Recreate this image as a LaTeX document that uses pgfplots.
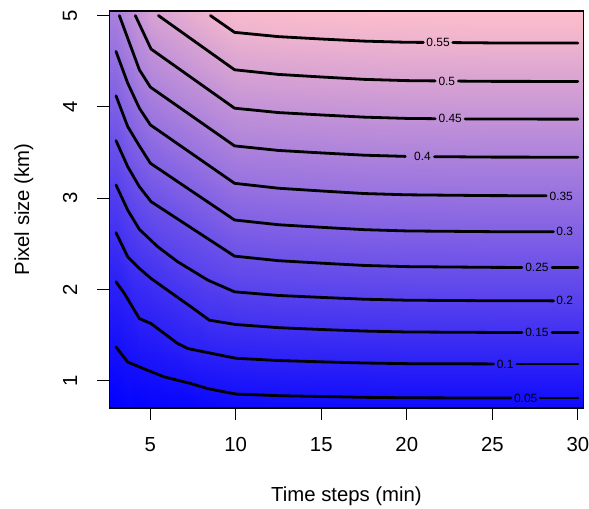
\documentclass[border=0pt]{standalone}
\usepackage{fontspec}
\setmainfont{Liberation Sans}
\usepackage{pgfplots}
\usepackage{pgfplotstable}
\pgfplotsset{compat=1.18}
\pgfplotstableread{
x y z
2.6 0.70 0.003
2.6 1.369 0.05
2.6 2.083 0.10
2.6 2.621 0.15
2.6 3.144 0.20
2.6 3.630 0.25
2.6 4.121 0.30
2.6 4.607 0.35
2.6 5.10 0.40
2.6 5.58 0.45
2.6 6.07 0.50
2.6 6.56 0.55
2.6 7.05 0.60
3 0.70 0.003
3 1.369 0.05
3 2.083 0.10
3 2.621 0.15
3 3.144 0.20
3 3.630 0.25
3 4.121 0.30
3 4.607 0.35
3 5.10 0.40
3 5.58 0.45
3 6.07 0.50
3 6.56 0.55
3 7.05 0.60
3.683 0.70 0.0135
3.683 1.204 0.05
3.683 1.894 0.10
3.683 2.357 0.15
3.683 2.869 0.20
3.683 3.345 0.25
3.683 3.784 0.30
3.683 4.26 0.35
3.683 4.753 0.40
3.683 5.24 0.45
3.683 5.73 0.50
3.683 6.22 0.55
3.683 6.70 0.60
4.366 0.70 0.0074
4.366 1.151 0.05
4.366 1.680 0.10
4.366 2.229 0.15
4.366 2.657 0.20
4.366 3.125 0.25
4.366 3.572 0.30
4.366 3.985 0.35
4.366 4.406 0.40
4.366 4.906 0.45
4.366 5.36 0.50
4.366 5.82 0.55
4.366 6.28 0.60
5.03 0.70 0.012
5.03 1.100 0.05
5.03 1.628 0.10
5.03 2.12 0.15
5.03 2.54 0.20
5.03 2.965 0.25
5.03 3.382 0.30
5.03 3.802 0.35
5.03 4.216 0.40
5.03 4.64 0.45
5.03 5.06 0.50
5.03 5.48 0.55
5.03 5.90 0.60
6 0.70 0.014
6 1.032 0.05
6 1.492 0.10
6 1.992 0.15
6 2.388 0.20
6 2.845 0.25
6 3.257 0.30
6 3.673 0.35
6 4.086 0.40
6 4.507 0.45
6 4.931 0.50
6 5.33 0.55
6 5.75 0.60
7.4 0.70 0.0147
7.4 0.966 0.05
7.4 1.343 0.10
7.4 1.807 0.15
7.4 2.212 0.20
7.4 2.674 0.25
7.4 3.080 0.30
7.4 3.491 0.35
7.4 3.903 0.40
7.4 4.321 0.45
7.4 4.744 0.50
7.4 5.146 0.55
7.4 5.55 0.60
8.4 0.70 0.0232
8.4 0.911 0.05
8.4 1.304 0.10
8.4 1.670 0.15
8.4 2.099 0.20
8.4 2.551 0.25
8.4 2.954 0.30
8.4 3.361 0.35
8.4 3.772 0.40
8.4 4.188 0.45
8.4 4.610 0.50
8.4 5.016 0.55
8.4 5.43 0.60
10 0.70 0.0305
10 0.853 0.05
10 1.245 0.10
10 1.615 0.15
10 1.973 0.20
10 2.364 0.25
10 2.760 0.30
10 3.162 0.35
10 3.572 0.40
10 3.985 0.45
10 4.406 0.50
10 4.816 0.55
10 5.23 0.60
12.5 0.70 0.0325
12.5 0.835 0.05
12.5 1.220 0.10
12.5 1.580 0.15
12.5 1.933 0.20
12.5 2.314 0.25
12.5 2.708 0.30
12.5 3.108 0.35
12.5 3.522 0.40
12.5 3.937 0.45
12.5 4.355 0.50
12.5 4.769 0.55
12.5 5.18 0.60
15 0.70 0.0334
15 0.826 0.05
15 1.206 0.10
15 1.560 0.15
15 1.912 0.20
15 2.287 0.25
15 2.680 0.30
15 3.078 0.35
15 3.495 0.40
15 3.911 0.45
15 4.327 0.50
15 4.743 0.55
15 5.15 0.60
17.5 0.70 0.0344
17.5 0.817 0.05
17.5 1.193 0.10
17.5 1.543 0.15
17.5 1.892 0.20
17.5 2.262 0.25
17.5 2.654 0.30
17.5 3.050 0.35
17.5 3.470 0.40
17.5 3.887 0.45
17.5 4.301 0.50
17.5 4.720 0.55
17.5 5.13 0.60
20 0.70 0.035
20 0.812 0.05
20 1.186 0.10
20 1.533 0.15
20 1.881 0.20
20 2.249 0.25
20 2.640 0.30
20 3.036 0.35
20 3.457 0.40
20 3.873 0.45
20 4.287 0.50
20 4.707 0.55
20 5.12 0.60
25 0.70 0.0354
25 0.809 0.05
25 1.183 0.10
25 1.528 0.15
25 1.875 0.20
25 2.241 0.25
25 2.632 0.30
25 3.027 0.35
25 3.449 0.40
25 3.866 0.45
25 4.279 0.50
25 4.700 0.55
25 5.11 0.60
30 0.70 0.0354
30 0.809 0.05
30 1.182 0.10
30 1.527 0.15
30 1.874 0.20
30 2.240 0.25
30 2.631 0.30
30 3.026 0.35
30 3.448 0.40
30 3.865 0.45
30 4.278 0.50
30 4.699 0.55
30 5.11 0.60
30.4 0.70 0.0354
30.4 0.809 0.05
30.4 1.182 0.10
30.4 1.527 0.15
30.4 1.874 0.20
30.4 2.240 0.25
30.4 2.631 0.30
30.4 3.026 0.35
30.4 3.448 0.40
30.4 3.865 0.45
30.4 4.278 0.50
30.4 4.699 0.55
30.4 5.11 0.60
}\meshdata
\tikzset{lb/.style={font=\fontsize{6}{7}\selectfont, inner sep=0pt, text=black}}
\pgfplotsset{cl/.style={black, line width=1.4bp, line join=round, line cap=round}}
\begin{document}
\begin{tikzpicture}
\begin{axis}[
  scale only axis,
  width=237bp, height=198.5bp,
  xmin=2.62, xmax=30.33, ymin=0.70, ymax=5.05,
  axis on top,
  xtick={5,10,15,20,25,30},
  ytick={1,2,3,4,5},
  tick pos=left,
  tick align=outside,
  major tick length=6.2bp,
  every tick/.style={black, line width=0.5bp},
  axis line style={black, line width=0.6bp},
  /pgf/number format/assume math mode=true,
  tick label style={font=\fontsize{10.2}{12}\selectfont},
  xticklabel style={anchor=center},
  xticklabel shift=12.3bp,
  yticklabel style={rotate=90, anchor=center},
  yticklabel shift=13.5bp,
  label style={font=\fontsize{10.2}{12}\selectfont},
  xlabel={Time steps (min)},
  ylabel={Pixel size (km)},
  xlabel style={at={(axis description cs:0.5,-0.2216)}, anchor=center},
  ylabel style={at={(axis description cs:-0.1804,0.5)}, anchor=center, rotate=0},
  colormap={bluepink}{rgb255=(0,0,255) rgb255=(255,192,203)},
  point meta min=0, point meta max=0.59,
]
\addplot[surf, shader=interp, mesh/ordering=y varies, mesh/rows=13, mesh/cols=16, point meta=explicit]
  table[x=x, y=y, meta=z] {\meshdata};

% 0.55
\addplot[cl] coordinates {(8.52,5.0)(9.93,4.816)(12.5,4.769)(15,4.743)(17.5,4.720)(20,4.707)(20.97,4.706)};
\addplot[cl] coordinates {(22.69,4.704)(25,4.700)(30,4.699)};
% 0.5
\addplot[cl] coordinates {(5.48,5.0)(9.93,4.406)(12.5,4.355)(15,4.327)(17.5,4.301)(20,4.287)(21.66,4.284)};
\addplot[cl] coordinates {(23.02,4.282)(25,4.279)(30,4.278)};
% 0.45
\addplot[cl] coordinates {(4.13,5.0)(5.05,4.633)(9.93,3.985)(12.5,3.937)(15,3.911)(17.5,3.887)(20,3.873)(21.66,3.870)};
\addplot[cl] coordinates {(23.41,3.867)(25,3.866)(30,3.865)};
% 0.4
\addplot[cl] coordinates {(3.195,5.0)(4.366,4.406)(5.01,4.216)(9.93,3.572)(12.5,3.522)(15,3.495)(17.5,3.470)(19.91,3.457)};
\addplot[cl] coordinates {(21.62,3.454)(25,3.449)(30,3.448)};
% 0.35
\addplot[cl] coordinates {(3.0,4.607)(3.683,4.26)(4.366,3.985)(5.01,3.802)(9.93,3.162)(12.5,3.108)(15,3.078)(17.5,3.050)(20,3.036)(25,3.027)(28.15,3.026)};
% 0.3
\addplot[cl] coordinates {(3.0,4.121)(3.683,3.784)(4.366,3.572)(5.01,3.382)(9.93,2.760)(12.5,2.708)(15,2.680)(17.5,2.654)(20,2.640)(25,2.632)(28.58,2.631)};
% 0.25
\addplot[cl] coordinates {(3.0,3.630)(3.683,3.345)(4.366,3.125)(5.05,2.961)(9.93,2.364)(12.5,2.314)(15,2.287)(17.5,2.262)(20,2.249)(25,2.241)(26.73,2.240)};
\addplot[cl] coordinates {(28.49,2.240)(30,2.240)};
% 0.2
\addplot[cl] coordinates {(3.0,3.144)(3.683,2.869)(4.366,2.657)(5.44,2.467)(6.61,2.302)(8.37,2.101)(9.93,1.973)(12.5,1.933)(15,1.912)(17.5,1.892)(20,1.881)(25,1.875)(28.58,1.874)};
% 0.15
\addplot[cl] coordinates {(3.0,2.621)(3.683,2.357)(4.366,2.229)(5.05,2.119)(6.42,1.936)(7.39,1.808)(8.46,1.662)(10,1.615)(12.5,1.580)(15,1.560)(17.5,1.543)(20,1.533)(25,1.528)(26.73,1.527)};
\addplot[cl] coordinates {(28.49,1.527)(30,1.527)};
% 0.1
\addplot[cl] coordinates {(3.0,2.083)(3.49,1.955)(4.366,1.680)(5.05,1.625)(6.61,1.406)(7.20,1.351)(10,1.245)(12.5,1.220)(15,1.206)(17.5,1.193)(20,1.186)(25.07,1.183)};
\addplot[cl] coordinates {(26.44,1.182)(30,1.182)};
% 0.05
\addplot[cl] coordinates {(3.0,1.369)(3.683,1.204)(4.85,1.113)(5.83,1.040)(7.39,0.967)(8.37,0.912)(10,0.853)(12.5,0.835)(15,0.826)(17.5,0.817)(20,0.812)(25,0.809)(26.09,0.809)};
\addplot[cl] coordinates {(27.8,0.809)(30,0.809)};

\node[lb] at (axis cs:21.83,4.705) {0.55};
\node[lb] at (axis cs:22.34,4.283) {0.5};
\node[lb] at (axis cs:22.54,3.868) {0.45};
\node[lb] at (axis cs:20.92,3.455) {0.4};
\node[lb] at (axis cs:29.03,3.024) {0.35};
\node[lb] at (axis cs:29.23,2.631) {0.3};
\node[lb] at (axis cs:27.61,2.240) {0.25};
\node[lb] at (axis cs:29.23,1.874) {0.2};
\node[lb] at (axis cs:27.61,1.527) {0.15};
\node[lb] at (axis cs:25.75,1.182) {0.1};
\node[lb] at (axis cs:26.95,0.809) {0.05};
\end{axis}
\pgfresetboundingbox
\path[use as bounding box] ([shift={(-54.75bp,-50.5bp)}]current axis.south west) rectangle ([shift={(2.75bp,5.5bp)}]current axis.north east);
\end{tikzpicture}
\end{document}
